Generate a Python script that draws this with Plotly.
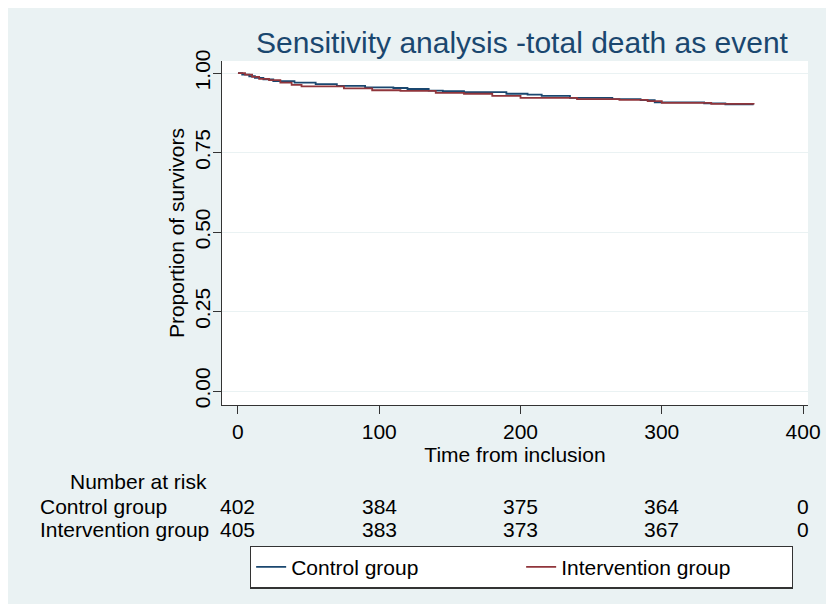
import plotly.graph_objects as go

# Kaplan-Meier step data
ctrl_t = [0, 3, 8, 12, 18, 25, 40, 55, 70, 90, 110, 120, 135, 145, 160, 190, 205, 215, 235, 265, 285, 295, 330, 345, 365]
ctrl_s = [1.0, 0.995, 0.990, 0.985, 0.980, 0.975, 0.970, 0.965, 0.960, 0.955, 0.953, 0.950, 0.945, 0.943, 0.940, 0.935,
          0.932, 0.928, 0.922, 0.918, 0.915, 0.908, 0.905, 0.902, 0.902]
int_t = [0, 5, 10, 15, 22, 30, 38, 45, 75, 95, 115, 140, 160, 180, 200, 240, 270, 290, 300, 335, 365]
int_s = [1.0, 0.995, 0.988, 0.982, 0.978, 0.970, 0.963, 0.958, 0.952, 0.946, 0.944, 0.938, 0.935, 0.928, 0.922,
         0.918, 0.916, 0.912, 0.906, 0.903, 0.901]

risk_times = [0, 100, 200, 300, 400]
risk_ctrl = [402, 384, 375, 364, 0]
risk_int = [405, 383, 373, 367, 0]
x_ticks = [0, 100, 200, 300, 400]
y_ticks = [0.0, 0.25, 0.5, 0.75, 1.0]

NAVY = "#1a476f"
MAROON = "#90353b"
BG = "#eaf2f3"
FONT = "Liberation Sans, Arial, sans-serif"
FS = 21

fig = go.Figure()
fig.add_trace(go.Scatter(x=ctrl_t, y=ctrl_s, mode="lines", line=dict(color=NAVY, width=1.8, shape="hv"),
                         name="Control group"))
fig.add_trace(go.Scatter(x=int_t, y=int_s, mode="lines", line=dict(color=MAROON, width=1.8, shape="hv"),
                         name="Intervention group"))

annotations = []
annotations.append(dict(text="Number at risk", x=-0.143, y=-0.221, xref="paper", yref="paper",
                        showarrow=False, xanchor="center", yanchor="middle", font=dict(size=FS, color="black")))
for lbl, yy in [("Control group", -0.2965), ("Intervention group", -0.363)]:
    annotations.append(dict(text=lbl, x=-0.314, y=yy, xref="paper", yref="paper",
                            showarrow=False, xanchor="left", yanchor="middle", font=dict(size=FS, color="black")))
for vals, yy in [(risk_ctrl, -0.2965), (risk_int, -0.363)]:
    for t, v in zip(risk_times, vals):
        annotations.append(dict(text=str(v), x=t, y=yy, xref="x", yref="paper", showarrow=False,
                                xanchor="center", yanchor="middle", font=dict(size=FS, color="black")))

W, H = 826, 596
fig.update_layout(
    width=W, height=H,
    margin=dict(l=214, r=26, t=53, b=199, autoexpand=False),
    paper_bgcolor=BG,
    plot_bgcolor="white",
    font=dict(family=FONT, size=FS, color="black"),
    title=dict(text="Sensitivity analysis -total death as event", x=514 / W, xanchor="center",
               y=1 - 34 / H, yanchor="middle", font=dict(size=30, color=NAVY)),
    showlegend=True,
    legend=dict(orientation="h", x=0.511, y=-0.471, xanchor="center", yanchor="middle",
                bgcolor="white", bordercolor="#333333", borderwidth=1.2,
                font=dict(size=FS, color="black"), entrywidth=225, entrywidthmode="pixels"),
    annotations=annotations,
)
fig.update_xaxes(range=[-11.3, 403.5], tickvals=x_ticks, ticks="outside", ticklen=8, tickcolor="#333333",
                 showline=True, linecolor="#333333", linewidth=1.2, showgrid=False, zeroline=False,
                 automargin=False,
                 title=dict(text="Time from inclusion", standoff=0, font=dict(size=FS)),
                 tickfont=dict(size=FS))
fig.update_yaxes(range=[-0.044, 1.038], tickvals=y_ticks, tickformat=".2f", ticks="outside", ticklen=8,
                 tickcolor="#333333", tickangle=-90, automargin=False, ticklabelstandoff=-5,
                 showline=True, linecolor="#333333", linewidth=1.2, showgrid=True, gridcolor="#eaf2f3",
                 gridwidth=1.2, zeroline=False,
                 title=dict(text="Proportion of survivors", standoff=0, font=dict(size=FS)),
                 tickfont=dict(size=FS))

fig.write_html("out.html")
